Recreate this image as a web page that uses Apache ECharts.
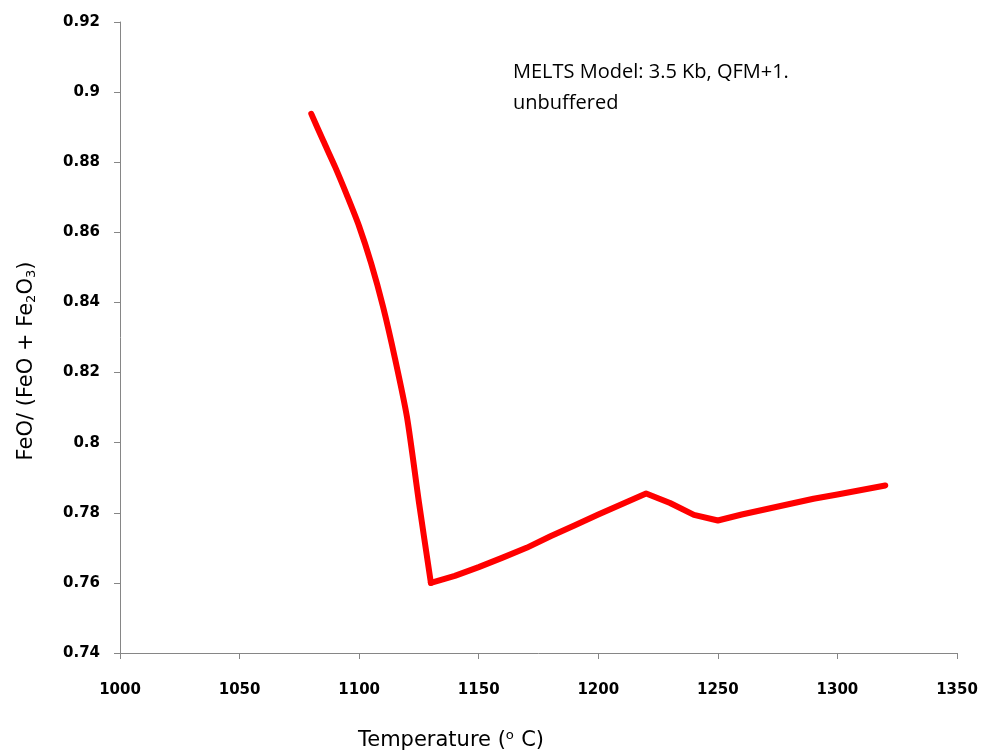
<!DOCTYPE html>
<html>
<head>
<meta charset="utf-8">
<script src="https://cdn.jsdelivr.net/npm/echarts@6/dist/echarts.min.js"></script>
<style>html,body{margin:0;padding:0;background:#fff;}#c{width:981px;height:754px;}</style>
</head>
<body>
<div id="c"></div>
<script>
// Steep cooling branch (smoothed curve) and the flatter high-temperature branch
const temperaturesLow = [1080, 1085, 1090, 1095, 1100, 1105, 1110, 1115, 1120, 1125, 1130];
const feoRatioLow = [0.8938, 0.8861, 0.8786, 0.8704, 0.8617, 0.8512, 0.8388, 0.8240, 0.8073, 0.7830, 0.7600];
const temperaturesHigh = [1130, 1140, 1150, 1160, 1170, 1180, 1190, 1200, 1210, 1220, 1230, 1240, 1250, 1260, 1270, 1280, 1290, 1300, 1310, 1320];
const feoRatioHigh = [0.7600, 0.7620, 0.7645, 0.7672, 0.7700, 0.7733, 0.7764, 0.7795, 0.7825, 0.7855, 0.7828, 0.7794, 0.7778, 0.7795, 0.7810, 0.7825, 0.7840, 0.7852, 0.7865, 0.7878];
const xTickLabels = ['1000', '1050', '1100', '1150', '1200', '1250', '1300', '1350'];
const yTickLabels = ['0.74', '0.76', '0.78', '0.8', '0.82', '0.84', '0.86', '0.88', '0.9', '0.92'];
const annotationLines = ['MELTS Model: 3.5 Kb, QFM+1.', 'unbuffered'];

const chart = echarts.init(document.getElementById('c'));
const axisColor = '#868686';
const lineStyle = { color: '#ff0000', width: 6, join: 'round', cap: 'round' };
chart.setOption({
  animation: false,
  backgroundColor: '#fff',
  grid: { left: 120, right: 24, top: 22, bottom: 101, containLabel: false, outerBoundsMode: 'none' },
  xAxis: {
    type: 'value', min: 1000, max: 1350, interval: 50,
    axisLine: { show: true, lineStyle: { color: axisColor, width: 1 } },
    axisTick: { show: true, inside: false, length: 6, lineStyle: { color: axisColor } },
    splitLine: { show: false },
    axisLabel: { margin: 30, color: '#000', fontFamily: 'DejaVu Sans', fontWeight: 'bold', fontSize: 15,
      formatter: (v) => xTickLabels[Math.round((v - 1000) / 50)] },
    name: 'Temperature (\u1D52 C)',
    nameLocation: 'middle', nameGap: 77,
    nameTextStyle: { color: '#000', fontFamily: 'DejaVu Sans', fontSize: 21, padding: [0, 175, 0, 0] }
  },
  yAxis: {
    type: 'value', min: 0.74, max: 0.92, interval: 0.02,
    axisLine: { show: true, lineStyle: { color: axisColor, width: 1 } },
    axisTick: { show: true, inside: false, length: 6, lineStyle: { color: axisColor } },
    splitLine: { show: false },
    axisLabel: { margin: 20, color: '#000', fontFamily: 'DejaVu Sans', fontWeight: 'bold', fontSize: 15,
      formatter: (v) => yTickLabels[Math.round((v - 0.74) / 0.02)] },
    name: 'FeO/ (FeO + Fe{sub|2}O{sub|3})',
    nameLocation: 'middle', nameGap: 82, nameRotate: 90,
    nameTextStyle: {
      color: '#000', fontFamily: 'DejaVu Sans', fontSize: 21, padding: [0, 47, 0, 0],
      rich: { sub: { fontFamily: 'DejaVu Sans', fontSize: 13, verticalAlign: 'bottom', padding: [9, 0, 0, 0], color: '#000' } }
    }
  },
  graphic: [{
    type: 'text', left: 513, top: 57,
    style: { text: annotationLines.join('\n'), fill: '#000', font: '20px "Open Sans"', lineHeight: 31 }
  }],
  series: [{
    type: 'line',
    data: temperaturesLow.map((t, i) => [t, feoRatioLow[i]]),
    showSymbol: false, symbol: 'none', smooth: 0.25,
    lineStyle: lineStyle, itemStyle: { color: '#ff0000' }
  }, {
    type: 'line',
    data: temperaturesHigh.map((t, i) => [t, feoRatioHigh[i]]),
    showSymbol: false, symbol: 'none', smooth: false,
    lineStyle: lineStyle, itemStyle: { color: '#ff0000' }
  }]
});
</script>
</body>
</html>
